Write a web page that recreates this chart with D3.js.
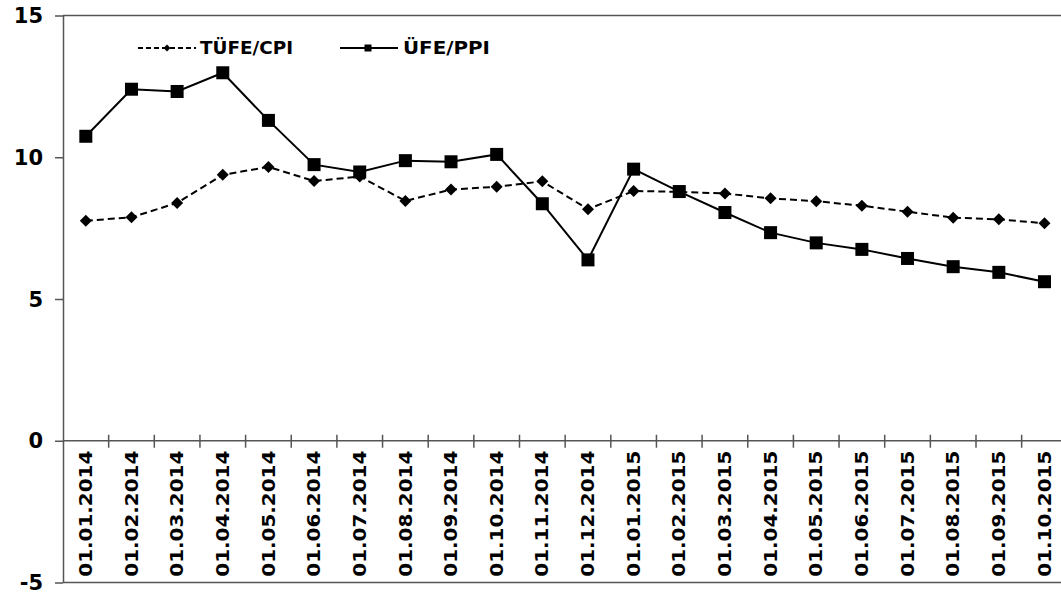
<!DOCTYPE html>
<html>
<head>
<meta charset="utf-8">
<script src="https://cdn.jsdelivr.net/npm/d3@7"></script>
<style>
  html, body { margin: 0; padding: 0; background: #fff; }
  svg { display: block; }
  text { font-family: "DejaVu Sans", Verdana, sans-serif; font-weight: bold; fill: #000; }
</style>
</head>
<body>
<svg id="chart" width="1061" height="597"></svg>
<script>
const categories = ["01.01.2014","01.02.2014","01.03.2014","01.04.2014","01.05.2014","01.06.2014",
  "01.07.2014","01.08.2014","01.09.2014","01.10.2014","01.11.2014","01.12.2014",
  "01.01.2015","01.02.2015","01.03.2015","01.04.2015","01.05.2015","01.06.2015",
  "01.07.2015","01.08.2015","01.09.2015","01.10.2015"];
const cpiValues = [7.76, 7.88, 8.39, 9.38, 9.66, 9.16, 9.32, 8.46, 8.86, 8.96, 9.15, 8.17,
  8.81, 8.78, 8.72, 8.55, 8.45, 8.29, 8.08, 7.87, 7.81, 7.67];
const ppiValues = [10.74, 12.40, 12.32, 12.98, 11.30, 9.74, 9.48, 9.88, 9.84, 10.10, 8.36, 6.38,
  9.58, 8.79, 8.05, 7.34, 6.98, 6.75, 6.43, 6.14, 5.94, 5.61];
const yTicks = [-5, 0, 5, 10, 15];
const seriesNames = ["TÜFE/CPI", "ÜFE/PPI"];

(function () {
const svg = d3.select("#chart");
const mLeft = 63, mTop = 15.5, mBottom = 582.5, band = 45.65;
const mRight = mLeft + band * categories.length;

const x = d3.scaleBand().domain(categories).range([mLeft, mRight]).padding(0);
const y = d3.scaleLinear().domain([-5, 15]).range([mBottom, mTop]);

svg.append("line").attr("x1", mLeft).attr("x2", mRight).attr("y1", y(15)).attr("y2", y(15))
  .attr("stroke", "#555").attr("stroke-width", 1.5);
svg.append("line").attr("x1", mLeft).attr("x2", mRight).attr("y1", y(-5)).attr("y2", y(-5))
  .attr("stroke", "#555").attr("stroke-width", 1.5);

// Y axis (line + ticks from d3 axis, labels drawn separately)
const yAxis = svg.append("g").attr("transform", `translate(${mLeft},0)`)
  .call(d3.axisLeft(y).tickValues(yTicks).tickSize(8).tickSizeOuter(0).tickFormat(""));
yAxis.select(".domain").attr("stroke", "#555").attr("stroke-width", 1.5);
yAxis.selectAll(".tick line").attr("stroke", "#555").attr("stroke-width", 1.5);
svg.append("g").selectAll("text").data(yTicks).join("text")
  .attr("x", 43).attr("y", d => y(d)).attr("dy", "0.36em")
  .attr("text-anchor", "end")
  .style("font-size", "21px")
  .text(d => d);

// X axis at y=0
const xAxisY = y(0);
svg.append("line").attr("x1", mLeft).attr("x2", mRight).attr("y1", xAxisY).attr("y2", xAxisY)
  .attr("stroke", "#555").attr("stroke-width", 1.5);
const boundaries = categories.slice(1).map(c => x(c));
svg.append("g").selectAll("line").data(boundaries).join("line")
  .attr("x1", d => d).attr("x2", d => d)
  .attr("y1", xAxisY - 6).attr("y2", xAxisY + 7)
  .attr("stroke", "#555").attr("stroke-width", 1.5);
svg.append("g").selectAll("text").data(categories).join("text")
  .attr("transform", d => `translate(${x(d) + x.bandwidth() / 2},${xAxisY + 10}) rotate(-90)`)
  .attr("text-anchor", "end")
  .attr("dy", "0.36em")
  .attr("textLength", 126)
  .attr("lengthAdjust", "spacingAndGlyphs")
  .style("font-size", "17px")
  .text(d => d);

const cx = (d, i) => x(categories[i]) + x.bandwidth() / 2;

const lineGen = d3.line().x((d, i) => cx(d, i)).y(d => y(d));
svg.append("path").datum(cpiValues).attr("d", lineGen)
  .attr("fill", "none").attr("stroke", "#000").attr("stroke-width", 2)
  .attr("stroke-dasharray", "7,4");
svg.append("path").datum(ppiValues).attr("d", lineGen)
  .attr("fill", "none").attr("stroke", "#000").attr("stroke-width", 2);

svg.append("g").selectAll("path").data(cpiValues).join("path")
  .attr("d", d3.symbol().type(d3.symbolSquare).size(72))
  .attr("transform", (d, i) => `translate(${cx(d, i)},${y(d)}) rotate(45)`)
  .attr("fill", "#000");
svg.append("g").selectAll("rect").data(ppiValues).join("rect")
  .attr("x", (d, i) => cx(d, i) - 6.5).attr("y", d => y(d) - 6.5)
  .attr("width", 13).attr("height", 13).attr("fill", "#000");

// Legend
const legY = 48;
const lg = svg.append("g");
lg.append("line").attr("x1", 138).attr("x2", 196).attr("y1", legY).attr("y2", legY)
  .attr("stroke", "#000").attr("stroke-width", 2).attr("stroke-dasharray", "5,3");
lg.append("path").attr("d", d3.symbol().type(d3.symbolSquare).size(24))
  .attr("transform", `translate(167,${legY}) rotate(45)`).attr("fill", "#000");
lg.append("text").attr("x", 200).attr("y", legY).attr("dy", "0.36em")
  .style("font-size", "17px").attr("textLength", 93).attr("lengthAdjust", "spacingAndGlyphs")
  .text(seriesNames[0]);
lg.append("line").attr("x1", 340).attr("x2", 398).attr("y1", legY).attr("y2", legY)
  .attr("stroke", "#000").attr("stroke-width", 2);
lg.append("rect").attr("x", 364.5).attr("y", legY - 3.5).attr("width", 7).attr("height", 7).attr("fill", "#000");
lg.append("text").attr("x", 403).attr("y", legY).attr("dy", "0.36em")
  .style("font-size", "17px").attr("textLength", 87).attr("lengthAdjust", "spacingAndGlyphs")
  .text(seriesNames[1]);
})();
</script>
</body>
</html>
